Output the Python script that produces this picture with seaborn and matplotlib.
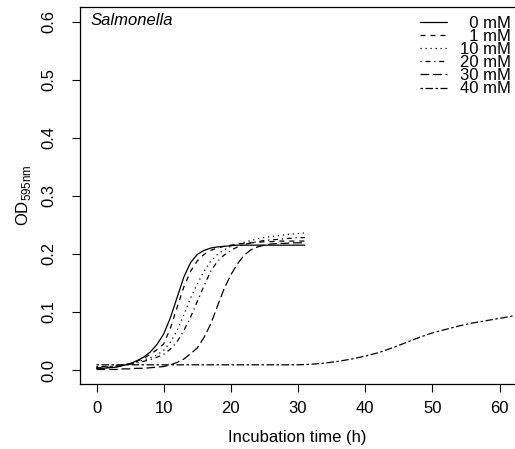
import numpy as np
import pandas as pd
import seaborn as sns
import matplotlib.pyplot as plt

# time (h) for the 0-30 mM runs
hours = list(range(0, 32))

od_0mM = [0.003, 0.003, 0.004, 0.005, 0.008, 0.011, 0.016, 0.022, 0.031, 0.044,
          0.062, 0.090, 0.125, 0.160, 0.185, 0.199, 0.206, 0.210, 0.212, 0.213,
          0.214, 0.215, 0.215, 0.215, 0.215, 0.215, 0.215, 0.215, 0.215, 0.215,
          0.215, 0.215]
od_1mM = [0.004, 0.004, 0.005, 0.006, 0.008, 0.011, 0.015, 0.020, 0.027, 0.035,
          0.045, 0.072, 0.108, 0.143, 0.170, 0.188, 0.199, 0.206, 0.210, 0.213,
          0.215, 0.217, 0.218, 0.219, 0.220, 0.221, 0.221, 0.222, 0.222, 0.222,
          0.222, 0.222]
od_10mM = [0.005, 0.005, 0.006, 0.007, 0.009, 0.011, 0.014, 0.017, 0.021, 0.026,
           0.034, 0.048, 0.068, 0.095, 0.124, 0.148, 0.170, 0.187, 0.199, 0.207,
           0.213, 0.217, 0.220, 0.223, 0.226, 0.228, 0.230, 0.231, 0.233, 0.234,
           0.235, 0.236]
od_20mM = [0.006, 0.006, 0.006, 0.007, 0.008, 0.010, 0.012, 0.015, 0.018, 0.022,
           0.027, 0.036, 0.049, 0.068, 0.091, 0.118, 0.145, 0.170, 0.187, 0.198,
           0.206, 0.212, 0.216, 0.219, 0.221, 0.223, 0.224, 0.225, 0.226, 0.227,
           0.228, 0.228]
od_30mM = [0.001, 0.001, 0.001, 0.001, 0.002, 0.002, 0.003, 0.003, 0.004, 0.005,
           0.006, 0.009, 0.013, 0.019, 0.028, 0.038, 0.056, 0.079, 0.110, 0.140,
           0.164, 0.183, 0.198, 0.207, 0.212, 0.215, 0.217, 0.218, 0.218, 0.219,
           0.219, 0.219]

# 40 mM run is longer
hours_40 = list(range(0, 66, 2))
od_40mM = [0.009, 0.009, 0.009, 0.009, 0.009, 0.009, 0.009, 0.009, 0.009, 0.009,
           0.009, 0.009, 0.009, 0.009, 0.009, 0.009, 0.010, 0.012, 0.015, 0.019,
           0.024, 0.030, 0.038, 0.047, 0.056, 0.064, 0.070, 0.076, 0.081, 0.085,
           0.089, 0.093, 0.096]

labels = ["  0 mM", "  1 mM", "10 mM", "20 mM", "30 mM", "40 mM"]

rows = []
for lab, y in zip(labels[:5], [od_0mM, od_1mM, od_10mM, od_20mM, od_30mM]):
    rows += [(lab, t, v) for t, v in zip(hours, y)]
rows += [(labels[5], t, v) for t, v in zip(hours_40, od_40mM)]
df = pd.DataFrame(rows, columns=["conc", "time", "od"])

sns.set_style("ticks")
plt.rcParams["font.family"] = ["Liberation Sans", "DejaVu Sans"]
plt.rcParams["font.size"] = 12
plt.rcParams["lines.scale_dashes"] = False
plt.rcParams["text.color"] = "black"
plt.rcParams["axes.labelcolor"] = "black"
plt.rcParams["xtick.color"] = "black"
plt.rcParams["ytick.color"] = "black"

# R style line types
styles = {
    labels[0]: "-",
    labels[1]: (0, (3.6, 3.6)),
    labels[2]: (0, (0.9, 2.7)),
    labels[3]: (0, (0.9, 2.7, 3.6, 2.7)),
    labels[4]: (0, (6.3, 2.7)),
    labels[5]: (0, (1.8, 1.8, 5.4, 1.8)),
}

fig = plt.figure(figsize=(5.15, 4.49), dpi=100)
ax = fig.add_axes([0.1553, 0.1448, 0.8447, 0.8396])

for lab in labels:
    d = df[df["conc"] == lab]
    sns.lineplot(data=d, x="time", y="od", ax=ax, color="black", lw=0.9,
                 linestyle=styles[lab], label=lab)

ax.set_xlim(-2.46, 62.3)
ax.set_ylim(-0.024, 0.625)
ax.set_xticks([0, 10, 20, 30, 40, 50, 60])
ax.set_yticks([0.0, 0.1, 0.2, 0.3, 0.4, 0.5, 0.6])
ax.set_yticklabels(["0.0", "0.1", "0.2", "0.3", "0.4", "0.5", "0.6"],
                   rotation=90, va="center")
ax.tick_params(direction="out", length=6, width=0.8, colors="black",
               labelsize=12)
ax.tick_params(axis="x", pad=6)
ax.tick_params(axis="y", pad=11)
for s in ["left", "bottom", "top"]:
    ax.spines[s].set_color("black")
    ax.spines[s].set_linewidth(0.9)
ax.spines["right"].set_visible(False)

ax.set_xlabel("Incubation time (h)", fontsize=12, labelpad=10)
ax.set_ylabel(r"OD$_{\mathregular{595nm}}$", fontsize=12, labelpad=6)

ax.text(0.025, 0.985, "Salmonella", transform=ax.transAxes, style="italic",
        fontsize=12, va="top", ha="left")

leg = ax.legend(loc="upper right", bbox_to_anchor=(0.999, 0.986), frameon=False,
                fontsize=12, handlelength=1.6, handletextpad=0.8,
                labelspacing=-0.11, borderaxespad=0.0, borderpad=0.2)

fig.savefig("out.png", dpi=100)
